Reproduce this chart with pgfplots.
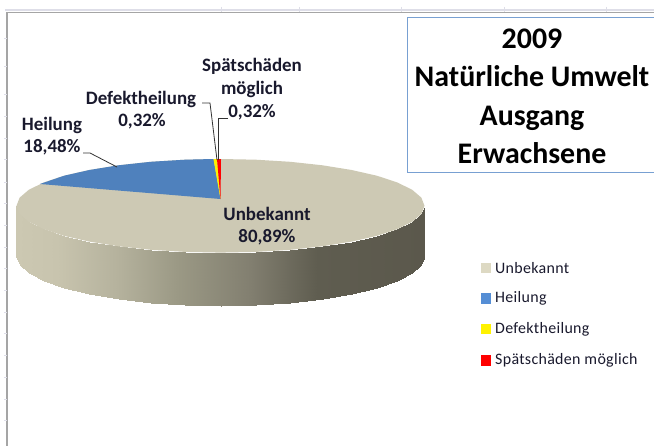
\documentclass[border=0pt]{standalone}
\usepackage{fontspec}
\setmainfont{Carlito}
\usepackage{pgfplots}
\pgfplotsset{compat=1.18}
\usepgfplotslibrary{patchplots}
\definecolor{tanface}{RGB}{205,201,180}
\definecolor{tanleg}{RGB}{221,217,195}
\definecolor{blueface}{RGB}{79,129,189}
\definecolor{blueleg}{RGB}{85,142,213}
\definecolor{boxblue}{RGB}{120,160,210}
\definecolor{frameg}{RGB}{165,165,165}
\definecolor{tickg}{RGB}{222,222,232}
\definecolor{txt}{RGB}{25,25,45}
\begin{document}
\begin{tikzpicture}
\begin{axis}[
  width=654bp,height=446bp,scale only axis,
  xmin=0,xmax=654,ymin=0,ymax=446,y dir=reverse,
  hide axis,
  colormap={side}{rgb255(16)=(204,200,178) rgb255(57)=(200,196,174) rgb255(117)=(181,178,157) rgb255(177)=(155,153,133) rgb255(250)=(130,127,112) rgb255(317)=(95,93,80) rgb255(425)=(91,88,76)},
  point meta min=16.5,point meta max=424.5,
]
% page background, keeps the picture at its full size
\addplot[fill=white,draw=white,line width=0pt,forget plot] coordinates {(0,0)(654,0)(654,446)(0,446)(0,0)};
% sheet frame
\addplot[tickg,line width=1.6pt,forget plot] coordinates {(5,10)(654,10)};
\addplot[only marks,mark=|,mark size=2.6pt,mark options={tickg,line width=1pt},forget plot] coordinates {(221.7,9.5)(299.3,9.5)(401.7,9.5)(504,9.5)(606.5,9.5)};
\addplot[only marks,mark=-,mark size=1.3pt,mark options={tickg,line width=0.9pt},forget plot] coordinates {(5.5,38)(5.5,66)(5.5,94)(5.5,116)(5.5,138)(5.5,159)(5.5,182)(5.5,203)(5.5,225)(5.5,247)(5.5,268)(5.5,290)(5.5,312)(5.5,333)(5.5,355)(5.5,377)(5.5,399)(5.5,420)};
\addplot[frameg,line width=1.3pt,forget plot] coordinates {(7,446)(7,12.6)(654,12.6)};
% side of the pie
\addplot[patch,patch type=rectangle,shader=interp,point meta=explicit,forget plot] table[meta=c] {
x y c
424.5 205.8 424.5
421.4 213.9 421.4
421.4 264.7 421.4
424.5 256 424.5
421.4 213.9 421.4
412.2 221.8 412.2
412.2 273.1 412.2
421.4 264.7 421.4
412.2 221.8 412.2
397.2 229.2 397.2
397.2 281 397.2
412.2 273.1 412.2
397.2 229.2 397.2
376.8 235.9 376.8
376.8 288.1 376.8
397.2 281 397.2
376.8 235.9 376.8
351.6 241.6 351.6
351.6 294.3 351.6
376.8 288.1 376.8
351.6 241.6 351.6
322.5 246.3 322.5
322.5 299.3 322.5
351.6 294.3 351.6
322.5 246.3 322.5
290.3 249.8 290.3
290.3 303 290.3
322.5 299.3 322.5
290.3 249.8 290.3
255.9 251.9 255.9
255.9 305.2 255.9
290.3 303 290.3
255.9 251.9 255.9
220.5 252.6 220.5
220.5 306 220.5
255.9 305.2 255.9
220.5 252.6 220.5
185.1 251.9 185.1
185.1 305.2 185.1
220.5 306 220.5
185.1 251.9 185.1
150.7 249.8 150.7
150.7 303 150.7
185.1 305.2 185.1
150.7 249.8 150.7
118.5 246.3 118.5
118.5 299.3 118.5
150.7 303 150.7
118.5 246.3 118.5
89.4 241.6 89.4
89.4 294.3 89.4
118.5 299.3 118.5
89.4 241.6 89.4
64.2 235.9 64.2
64.2 288.1 64.2
89.4 294.3 89.4
64.2 235.9 64.2
43.8 229.2 43.8
43.8 281 43.8
64.2 288.1 64.2
43.8 229.2 43.8
28.8 221.8 28.8
28.8 273.1 28.8
43.8 281 43.8
28.8 221.8 28.8
19.6 213.9 19.6
19.6 264.7 19.6
28.8 273.1 28.8
19.6 213.9 19.6
16.5 205.8 16.5
16.5 256 16.5
19.6 264.7 19.6
};
% top face: Unbekannt
\addplot[fill=tanface,draw=none,forget plot] coordinates {
(424.5,205.8)(421.4,213.9)(412.2,221.8)(397.2,229.2)(376.8,235.9)(351.6,241.6)(322.5,246.3)(290.3,249.8)(255.9,251.9)(220.5,252.6)(185.1,251.9)(150.7,249.8)(118.5,246.3)(89.4,241.6)(64.2,235.9)(43.8,229.2)(28.8,221.8)(19.6,213.9)(16.5,205.8)(19.6,197.7)(28.8,189.8)(43.8,182.4)(64.2,175.7)(89.4,170)(118.5,165.3)(150.7,161.8)(185.1,159.7)(220.5,159)(255.9,159.7)(290.3,161.8)(322.5,165.3)(351.6,170)(376.8,175.7)(397.2,182.4)(412.2,189.8)(421.4,197.7)(424.5,205.8)};
% Heilung
\addplot[fill=blueface,draw=none,forget plot] coordinates {
(220.5,199)(40,184)(64.2,175.7)(89.4,170)(118.5,165.3)(150.7,161.8)(185.1,159.7)(213.5,159)(220.5,199)};
% Defektheilung
\addplot[fill=yellow,draw=none,forget plot] coordinates {(220.5,199)(213.5,159)(217,159)(220.5,199)};
% Spätschäden möglich
\addplot[fill=red,draw=none,forget plot] coordinates {(220.5,199)(217,159)(221,159)(220.5,199)};
% leaders
\addplot[black!80,line width=0.8pt,forget plot] coordinates {(83,153)(90,153)(117,167)};
\addplot[black!80,line width=0.8pt,forget plot] coordinates {(202,103)(210,103)(217,160)};
\addplot[black!80,line width=0.8pt,forget plot] coordinates {(228,118)(218.5,118)(218.5,160)};
% title box
\addplot[boxblue,line width=0.9pt,forget plot] coordinates {(654,17.5)(407,17.5)(407,172.7)(654,172.7)};
% legend swatches
\addplot[only marks,mark=square*,mark size=5pt,mark options={draw=tanleg,fill=tanleg,line width=0pt},forget plot] coordinates {(486,268)};
\addplot[only marks,mark=square*,mark size=5pt,mark options={draw=blueleg,fill=blueleg,line width=0pt},forget plot] coordinates {(486,298.7)};
\addplot[only marks,mark=square*,mark size=5pt,mark options={draw=yellow,fill=yellow,line width=0pt},forget plot] coordinates {(486,329)};
\addplot[only marks,mark=square*,mark size=5pt,mark options={draw=red,fill=red,line width=0pt},forget plot] coordinates {(486,360.7)};
\begingroup
\newcommand{\legt}[2]{\node[anchor=west,inner sep=0pt,text=txt,font=\fontsize{16}{17}\selectfont\addfontfeature{LetterSpace=2}] at (axis cs:495,#1) {#2};}
\legt{268}{Unbekannt}
\legt{298.7}{Heilung}
\legt{329}{Defektheilung}
\legt{360.7}{Spätschäden möglich}
\newcommand{\lab}[3]{\node[inner sep=0pt,text=txt,font=\fontsize{19}{20}\selectfont\bfseries] at (axis cs:#1,#2) {#3};}
\lab{52}{125}{Heilung}
\lab{52}{147.7}{18,48\%}
\lab{141}{99}{Defektheilung}
\lab{142}{121}{0,32\%}
\lab{252}{66.7}{Spätschäden}
\lab{252}{89}{möglich}
\lab{252}{112}{0,32\%}
\lab{267}{214}{Unbekannt}
\lab{267}{237}{80,89\%}
\newcommand{\tit}[2]{\node[inner sep=0pt,anchor=base,text=black,font=\fontsize{30}{32}\selectfont\bfseries] at (axis cs:532,#1) {#2};}
\tit{49}{2009}
\tit{87}{Natürliche Umwelt}
\tit{125}{Ausgang}
\tit{163}{Erwachsene}
\endgroup
\end{axis}
\end{tikzpicture}
\end{document}
